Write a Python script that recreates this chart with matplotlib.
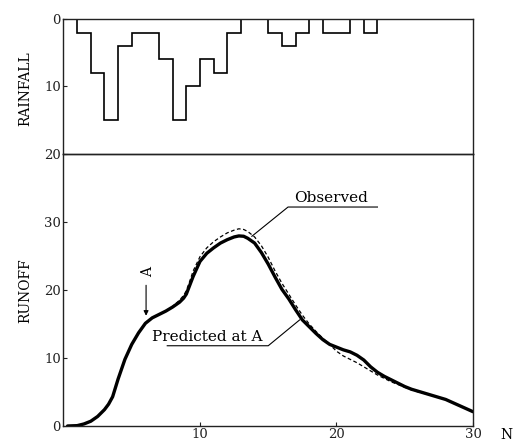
import matplotlib
matplotlib.use("Agg")
import matplotlib.pyplot as plt
import numpy as np

plt.rcParams['font.family'] = ['DejaVu Serif']

# rainfall per unit interval N = 0..30
rain_edges = np.arange(0, 31)
rain = [0, 2, 8, 15, 4, 2, 2, 6, 15, 10, 6, 8, 2, 0, 0, 2, 4, 2, 0, 2,
        2, 0, 2, 0, 0, 0, 0, 0, 0, 0]

# runoff curves
n_pts = [0.3, 1, 1.5, 2, 2.5, 3, 3.3, 3.6, 3.8, 4, 4.5, 5, 5.5, 6, 6.5, 7, 7.5,
         8, 8.5, 8.8, 9, 9.25, 9.5, 10, 10.5, 11, 11.5, 12, 12.5, 12.85, 13.2,
         13.5, 14, 14.5, 15, 15.5, 16, 16.5, 17, 17.5, 18, 18.5, 19, 19.5, 20,
         20.5, 21, 21.5, 22, 22.5, 23, 23.5, 24, 24.5, 25, 25.5, 26, 27, 28,
         29, 30]
predicted = [0, 0.05, 0.3, 0.7, 1.4, 2.4, 3.2, 4.3, 5.6, 6.9, 9.8, 12.0, 13.7,
             15.1, 15.9, 16.4, 16.9, 17.5, 18.2, 18.8, 19.4, 20.7, 22.0, 24.2,
             25.4, 26.2, 26.9, 27.4, 27.8, 27.95, 27.9, 27.6, 26.9, 25.5, 23.8,
             21.9, 20.1, 18.7, 17.1, 15.6, 14.6, 13.6, 12.7, 12.0, 11.6, 11.2,
             10.9, 10.4, 9.7, 8.7, 7.9, 7.3, 6.8, 6.3, 5.8, 5.4, 5.1, 4.5, 3.9,
             3.0, 2.1]
observed = [0, 0.05, 0.3, 0.7, 1.4, 2.4, 3.2, 4.3, 5.6, 6.9, 9.8, 12.0, 13.7,
            15.1, 15.9, 16.4, 16.9, 17.6, 18.5, 19.2, 19.9, 21.3, 22.8, 24.9,
            26.2, 27.1, 27.8, 28.4, 28.8, 29.0, 28.9, 28.6, 27.8, 26.5, 24.8,
            22.8, 21.0, 19.4, 17.8, 16.3, 15.0, 13.9, 12.9, 12.0, 11.0, 10.3,
            9.8, 9.3, 8.7, 8.1, 7.5, 7.0, 6.5, 6.1, 5.7, 5.3, 5.0, 4.5, 3.9,
            3.0, 2.1]

fig = plt.figure(figsize=(5.17, 4.43), dpi=100)
ax1 = fig.add_axes([0.1228, 0.6524, 0.7921, 0.3047])
ax2 = fig.add_axes([0.1228, 0.0384, 0.7921, 0.6140])

frame = '#222222'
for ax in (ax1, ax2):
    ax.set_facecolor('none')
    for s in ax.spines.values():
        s.set_linewidth(1.0)
        s.set_color(frame)
    ax.tick_params(direction='in', length=3, width=0.8, labelsize=9.5,
                   colors=frame, pad=2)
    ax.set_xlim(0, 30)
ax2.tick_params(axis='x', pad=1.5)

# rainfall panel
ax1.stairs(rain, rain_edges, color='k', lw=1.2)
ax1.set_ylim(20, 0)
ax1.set_yticks([0, 10, 20])
ax1.set_xticks([])

# runoff panel
ax2.plot(n_pts, observed, color='k', lw=0.9, ls=(0, (3, 2)))
ax2.plot(n_pts, predicted, color='k', lw=2.4, solid_capstyle='round',
         solid_joinstyle='round')
ax2.set_ylim(0, 40)
ax2.set_yticks([0, 10, 20, 30])
ax2.set_xticks([10, 20, 30])

fig.text(0.048, 0.80, 'RAINFALL', rotation=90, ha='center', va='center',
         fontsize=10)
fig.text(0.048, 0.345, 'RUNOFF', rotation=90, ha='center', va='center',
         fontsize=10)
fig.text(0.98, 0.018, 'N', ha='center', va='center', fontsize=10)

# annotations
ax2.text(6.2, 22.7, 'A', rotation=90, ha='center', va='center', fontsize=10)
ax2.annotate('', xy=(6.05, 15.8), xytext=(6.05, 21.1),
             arrowprops=dict(arrowstyle='-|>', lw=0.8, color='k',
                             mutation_scale=7))

ax2.text(19.6, 33.5, 'Observed', ha='center', va='center', fontsize=11)
ax2.plot([23.0, 16.45, 13.8], [32.2, 32.2, 27.9], color='k', lw=0.8)

ax2.text(6.5, 13.1, 'Predicted at A', ha='left', va='center', fontsize=11)
ax2.plot([7.6, 15.0, 17.3], [11.8, 11.8, 15.6], color='k', lw=0.8)

fig.savefig('out.png', dpi=100)
